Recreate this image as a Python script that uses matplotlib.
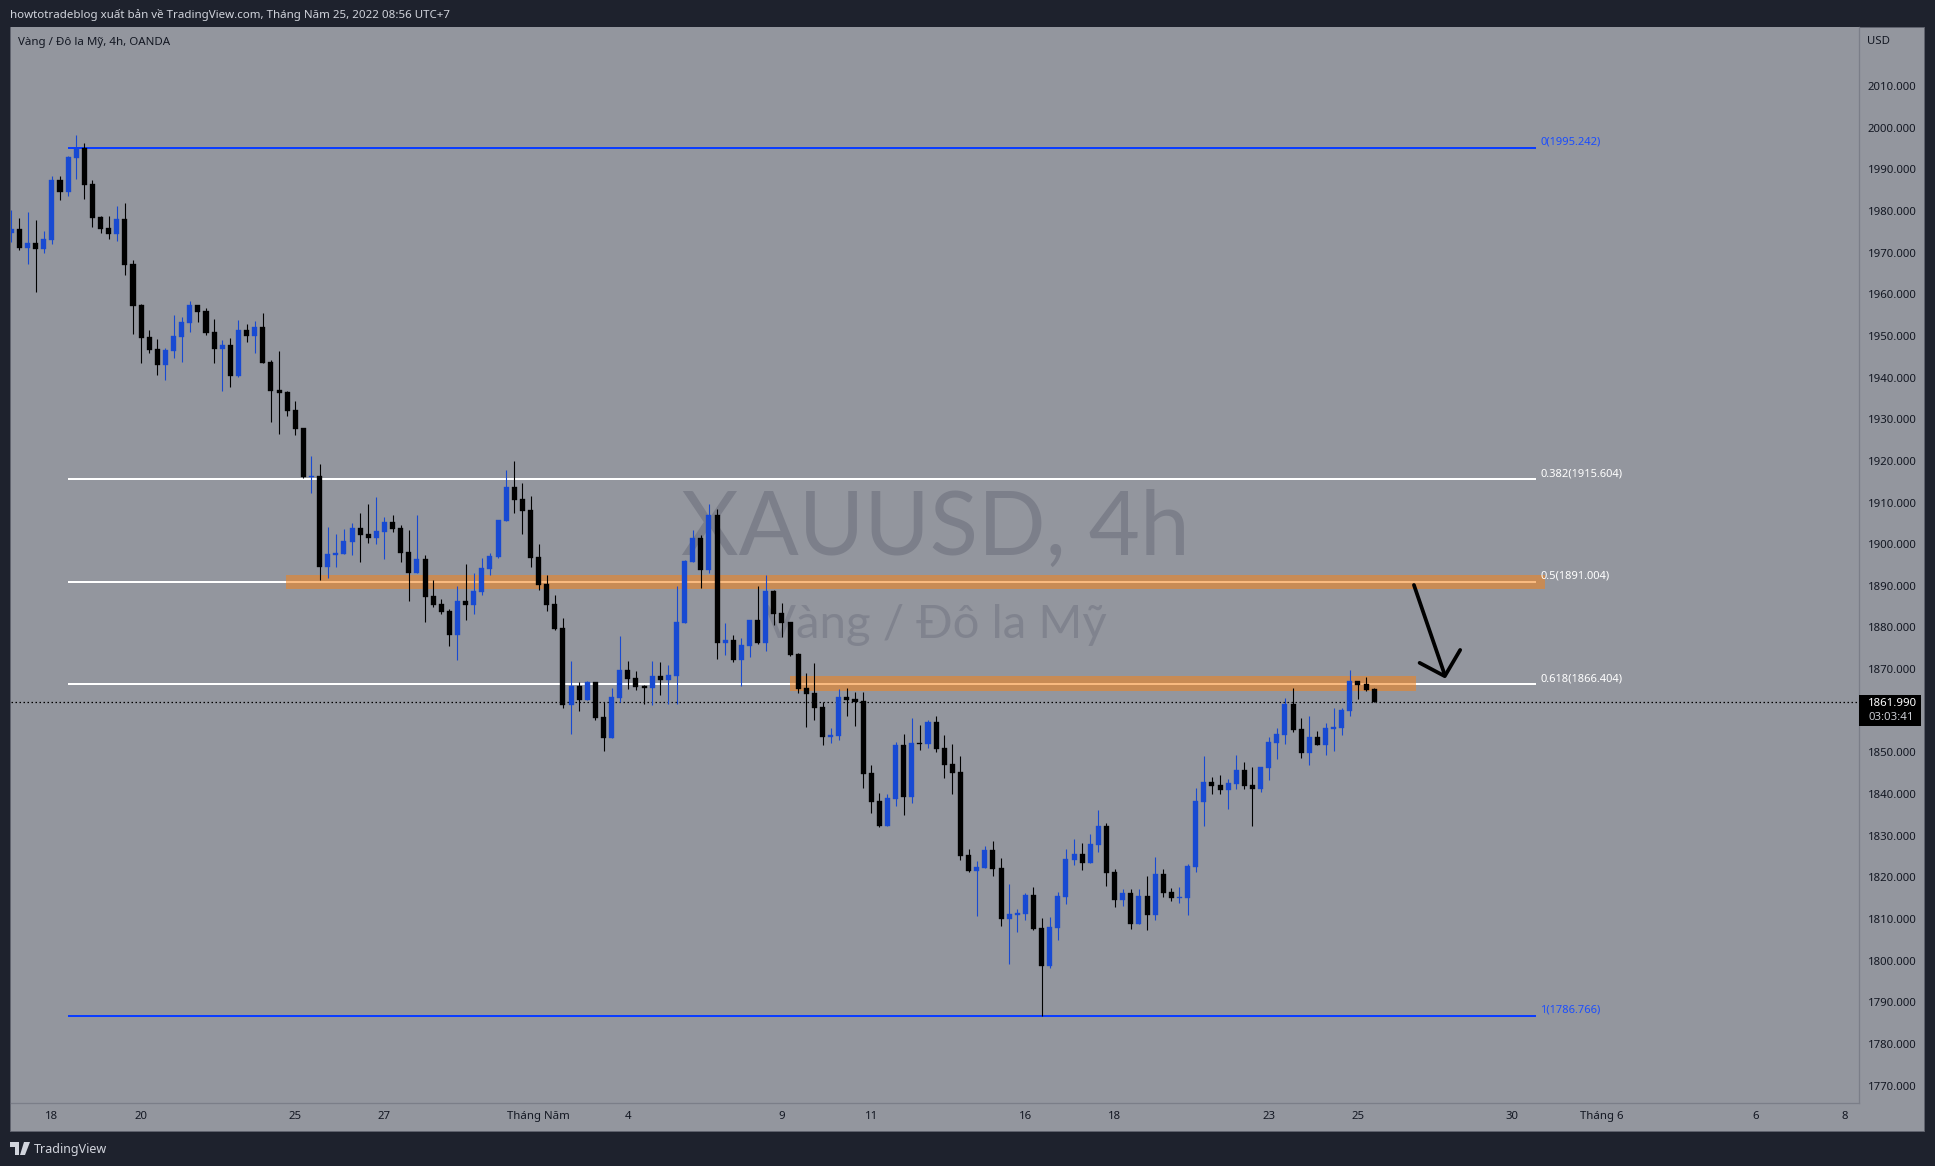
import matplotlib
matplotlib.use('Agg')
import matplotlib.pyplot as plt
from matplotlib.patches import Rectangle, Polygon

plt.rcParams['font.family'] = ['Noto Sans', 'DejaVu Sans']

W, H = 1935, 1166

open_ = [1974.8, 1975.7, 1971.2, 1972.4, 1970.9, 1973.1, 1987.5, 1984.6, 1992.8, 1995.2,
         1986.5, 1978.6, 1976.0, 1974.5, 1978.1, 1967.3, 1957.5, 1949.8, 1946.9, 1943.1,
         1946.4, 1949.8, 1953.1, 1957.5, 1956.0, 1951.0, 1946.9, 1947.9, 1940.4, 1951.5,
         1950.0, 1952.2, 1943.8, 1937.1, 1936.6, 1932.2, 1927.9, 1916.2, 1916.4, 1894.5,
         1897.4, 1897.7, 1900.5, 1903.9, 1902.5, 1901.5, 1902.9, 1905.4, 1903.9, 1898.1,
         1893.1, 1896.5, 1887.6, 1885.6, 1884.0, 1878.2, 1886.4, 1885.4, 1888.5, 1894.1,
         1896.9, 1905.6, 1913.8, 1910.9, 1908.2, 1896.9, 1890.5, 1885.6, 1879.9, 1861.4,
         1866.0, 1862.6, 1866.9, 1858.5, 1853.5, 1863.1, 1869.8, 1867.9, 1866.0, 1865.5,
         1868.4, 1867.4, 1868.4, 1881.1, 1895.7, 1901.5, 1893.8, 1907.0, 1876.3, 1877.0,
         1872.2, 1875.6, 1881.8, 1876.3, 1888.8, 1883.5, 1881.3, 1873.6, 1865.5, 1864.3,
         1860.9, 1853.7, 1854.0, 1863.3, 1862.8, 1862.4, 1845.1, 1838.3, 1832.3, 1838.8,
         1851.8, 1839.3, 1852.3, 1852.0, 1857.3, 1851.1, 1847.2, 1845.3, 1825.4, 1821.5,
         1822.2, 1826.6, 1822.2, 1810.0, 1811.0, 1811.2, 1815.8, 1807.8, 1798.7, 1807.8,
         1815.3, 1824.2, 1825.6, 1823.4, 1827.8, 1832.3, 1821.3, 1814.6, 1816.2, 1808.8,
         1815.5, 1811.0, 1820.8, 1816.5, 1815.0, 1815.0, 1822.5, 1838.1, 1842.9, 1842.2,
         1841.0, 1842.4, 1845.8, 1842.2, 1841.2, 1846.3, 1852.3, 1854.2, 1861.6, 1855.6,
         1849.9, 1853.7, 1851.8, 1855.6, 1855.9, 1860.0, 1867.2, 1866.4, 1865.2]
close = [1975.7, 1971.2, 1972.4, 1970.9, 1973.3, 1987.5, 1984.6, 1993.0, 1994.9, 1986.3,
         1978.4, 1975.7, 1974.5, 1978.1, 1967.1, 1957.2, 1949.5, 1946.7, 1943.1, 1946.7,
         1950.0, 1953.4, 1957.5, 1955.8, 1950.7, 1946.9, 1947.9, 1940.4, 1951.5, 1950.0,
         1952.2, 1943.5, 1936.8, 1936.3, 1932.0, 1927.7, 1916.2, 1916.4, 1894.5, 1897.7,
         1897.9, 1900.8, 1903.9, 1902.2, 1901.5, 1903.2, 1905.4, 1903.7, 1897.9, 1893.1,
         1896.5, 1887.3, 1885.4, 1883.7, 1878.2, 1886.4, 1885.4, 1888.8, 1894.3, 1897.2,
         1905.8, 1913.8, 1910.6, 1908.0, 1896.7, 1890.2, 1885.4, 1879.7, 1861.4, 1866.0,
         1862.6, 1866.9, 1858.3, 1853.5, 1863.3, 1869.8, 1867.6, 1865.7, 1865.5, 1868.4,
         1867.4, 1868.6, 1881.3, 1896.0, 1901.5, 1893.8, 1907.0, 1876.3, 1877.0, 1872.2,
         1875.8, 1881.8, 1876.3, 1888.8, 1883.3, 1881.1, 1873.4, 1865.2, 1864.0, 1860.7,
         1853.7, 1854.2, 1863.3, 1862.6, 1862.1, 1844.8, 1838.1, 1832.3, 1839.1, 1851.8,
         1839.3, 1852.3, 1852.0, 1857.3, 1850.8, 1847.0, 1845.1, 1825.1, 1821.5, 1822.5,
         1826.6, 1822.0, 1810.0, 1811.2, 1811.4, 1815.8, 1807.6, 1798.7, 1808.1, 1815.5,
         1824.4, 1825.6, 1823.4, 1828.0, 1832.3, 1821.0, 1814.6, 1816.2, 1808.8, 1815.5,
         1811.0, 1820.8, 1816.2, 1815.0, 1815.3, 1822.7, 1838.3, 1842.9, 1841.9, 1841.0,
         1842.7, 1845.8, 1841.9, 1841.2, 1846.5, 1852.5, 1854.4, 1861.6, 1855.4, 1849.9,
         1853.7, 1851.8, 1855.9, 1856.1, 1860.2, 1867.2, 1866.2, 1865.0, 1861.99]
high = [1980.3, 1978.4, 1979.8, 1977.9, 1975.2, 1988.4, 1988.4, 1993.2, 1998.3, 1996.4,
        1987.5, 1978.8, 1978.8, 1981.2, 1982.0, 1968.3, 1957.7, 1951.5, 1949.3, 1947.1,
        1955.1, 1954.6, 1958.4, 1957.5, 1956.7, 1954.1, 1949.1, 1949.5, 1953.9, 1952.9,
        1953.6, 1955.5, 1944.3, 1946.4, 1936.8, 1934.4, 1927.9, 1921.2, 1919.3, 1904.1,
        1902.5, 1903.7, 1905.1, 1907.5, 1909.7, 1911.4, 1906.6, 1907.0, 1904.6, 1903.4,
        1907.0, 1897.4, 1891.4, 1886.9, 1884.5, 1890.0, 1895.3, 1893.1, 1896.7, 1897.9,
        1905.8, 1917.8, 1920.0, 1914.7, 1911.6, 1900.1, 1892.6, 1887.8, 1882.3, 1872.0,
        1866.9, 1867.2, 1866.9, 1862.1, 1865.5, 1878.0, 1872.0, 1869.6, 1866.2, 1872.0,
        1871.7, 1871.0, 1890.0, 1896.2, 1903.4, 1902.2, 1909.7, 1908.5, 1881.1, 1878.2,
        1877.5, 1881.8, 1890.0, 1892.6, 1889.0, 1885.9, 1881.3, 1873.9, 1869.1, 1871.5,
        1862.1, 1855.9, 1865.2, 1865.5, 1864.5, 1864.5, 1847.0, 1840.3, 1840.0, 1852.5,
        1854.4, 1858.3, 1856.6, 1857.8, 1858.8, 1854.2, 1852.0, 1849.1, 1826.8, 1823.9,
        1827.5, 1828.7, 1824.6, 1818.4, 1812.4, 1816.2, 1817.7, 1810.2, 1810.5, 1816.5,
        1826.8, 1829.2, 1828.2, 1830.4, 1836.2, 1833.1, 1822.0, 1817.2, 1817.2, 1817.2,
        1820.3, 1824.9, 1822.0, 1817.4, 1817.7, 1823.2, 1841.5, 1849.1, 1844.1, 1844.6,
        1843.6, 1849.4, 1847.7, 1846.5, 1846.5, 1853.7, 1855.9, 1863.1, 1865.5, 1858.3,
        1858.8, 1855.1, 1857.1, 1860.7, 1860.7, 1869.8, 1867.2, 1868.1, 1865.5]
low = [1972.6, 1970.7, 1967.3, 1960.6, 1970.0, 1972.1, 1982.7, 1983.6, 1987.7, 1982.9,
       1976.2, 1974.8, 1973.3, 1972.8, 1964.7, 1950.5, 1943.5, 1945.9, 1940.7, 1939.5,
       1944.7, 1943.8, 1951.0, 1953.4, 1950.3, 1943.5, 1936.8, 1937.8, 1940.2, 1948.6,
       1945.9, 1943.5, 1929.4, 1926.5, 1930.8, 1926.2, 1915.9, 1912.3, 1891.4, 1891.9,
       1894.5, 1897.7, 1897.4, 1895.7, 1900.3, 1900.1, 1896.5, 1902.9, 1895.7, 1886.4,
       1893.1, 1881.3, 1884.9, 1883.3, 1875.6, 1872.2, 1881.8, 1883.3, 1887.8, 1892.6,
       1896.7, 1905.6, 1907.5, 1902.5, 1894.5, 1889.0, 1884.0, 1879.4, 1860.7, 1854.4,
       1860.0, 1862.6, 1857.8, 1850.3, 1853.5, 1862.1, 1865.2, 1865.0, 1861.6, 1861.4,
       1863.8, 1861.6, 1861.6, 1881.1, 1895.7, 1889.5, 1893.1, 1872.4, 1873.4, 1871.7,
       1866.0, 1872.9, 1876.0, 1874.4, 1880.6, 1877.7, 1873.2, 1864.3, 1856.1, 1857.8,
       1851.8, 1852.3, 1853.0, 1858.8, 1856.4, 1841.5, 1835.5, 1832.1, 1832.3, 1837.1,
       1835.0, 1837.9, 1850.6, 1851.1, 1850.1, 1843.9, 1840.0, 1824.2, 1821.3, 1810.7,
       1822.2, 1820.3, 1808.3, 1799.2, 1806.9, 1809.8, 1807.4, 1786.8, 1798.2, 1805.0,
       1813.6, 1823.0, 1821.8, 1823.4, 1826.1, 1817.9, 1812.9, 1813.1, 1807.6, 1808.8,
       1807.4, 1809.8, 1815.3, 1814.3, 1813.8, 1811.0, 1821.3, 1832.3, 1840.0, 1840.0,
       1836.4, 1841.2, 1841.2, 1832.3, 1840.5, 1843.4, 1848.4, 1852.0, 1854.9, 1848.7,
       1847.0, 1851.8, 1849.4, 1850.3, 1854.2, 1858.8, 1862.8, 1864.8, 1861.99]

fib_ratio = ['0', '0.382', '0.5', '0.618', '1']
fib_price = [1995.242, 1915.604, 1891.004, 1866.404, 1786.766]
fib_color = ['#0b3dff', '#ffffff', '#ffffff', '#ffffff', '#0b3dff']
fib_text_color = ['#1a4dff', '#ffffff', '#ffffff', '#ffffff', '#1a4dff']

# the 1860 label sits behind the last price badge in the reference
price_ticks = [p for p in range(1770, 2020, 10) if p != 1860]
date_pos = [5, 16, 35, 46, 65, 76, 95, 106, 125, 136, 155, 166, 185, 196, 215, 226]
date_labels = ['18', '20', '25', '27', 'Tháng Năm', '4', '9', '11', '16', '18', '23', '25', '30', 'Tháng 6', '6', '8']

zones = [(33.9, 189.0, 1889.25, 1892.6), (96.0, 173.1, 1864.75, 1868.36)]
arrow_x = [172.9, 176.7]
arrow_y = [1890.2, 1868.6]
head_x = [173.6, 176.7, 178.6]
head_y = [1871.5, 1868.3, 1874.6]

last_price = 1861.99

DARK = '#1e222d'
PANEL = '#93969e'
UP = '#184ad2'
DOWN = '#000000'
SEP = '#7b7e88'
WATER = '#7c7f8a'


def fx(x):
    return x / W


def fy(y):
    return 1 - y / H


fig = plt.figure(figsize=(W / 100, H / 100), dpi=100, facecolor=DARK)

fig.add_artist(Rectangle((fx(10), fy(1131)), (1924 - 10) / W, (1131 - 27) / H, transform=fig.transFigure,
                         facecolor=PANEL, edgecolor='#5f626d', linewidth=0.72, zorder=-1))

ax = fig.add_axes([fx(10.5), fy(1103), (1859.3 - 10.5) / W, (1103 - 27) / H])
ax.set_facecolor(PANEL)
ax.set_xlim(-0.1, 227.8)
ax.set_ylim(1765.8, 2024.2)

for side in ['top', 'left']:
    ax.spines[side].set_visible(False)
for side in ['right', 'bottom']:
    ax.spines[side].set_color(SEP)
    ax.spines[side].set_linewidth(0.9)

ax.yaxis.tick_right()
ax.set_yticks(price_ticks)
ax.set_yticklabels(['%.3f' % p for p in price_ticks])
ax.set_xticks(date_pos)
ax.set_xticklabels(date_labels)
ax.tick_params(axis='both', length=0, labelsize=8.2, labelcolor='#131722')
ax.tick_params(axis='y', pad=6.2)
ax.tick_params(axis='x', pad=6)
for lab in ax.get_xticklabels():
    if lab.get_text().startswith('Tháng'):
        lab.set_fontweight('bold')

# watermark
ax.text(0.5, 0.509, 'XAUUSD, 4h', transform=ax.transAxes, ha='center', va='baseline', fontsize=64,
        color=WATER, zorder=1, family=['Lato', 'DejaVu Sans'])
ax.text(0.5, 0.432, 'Vàng / Đô la Mỹ', transform=ax.transAxes, ha='center', va='baseline', fontsize=34,
        color='#80838e', zorder=1, family=['Lato', 'DejaVu Sans'])

# fib levels
for ratio, price, col, tcol in zip(fib_ratio, fib_price, fib_color, fib_text_color):
    ax.plot([7, 188], [price, price], color=col, lw=1.44, solid_capstyle='butt', zorder=2)
    ax.annotate('%s(%.3f)' % (ratio, price), xy=(188, price), xytext=(2.9, 0), textcoords='offset points',
                color=tcol, fontsize=8, va='bottom', ha='left', zorder=5)

for x0, x1, y0, y1 in zones:
    ax.add_patch(Rectangle((x0, y0), x1 - x0, y1 - y0, facecolor='#f58219', alpha=0.55, linewidth=0, zorder=3))

ax.axhline(last_price, color='black', lw=0.9, linestyle=(0, (1.2, 2)), zorder=3.5)

# candles
xs = list(range(len(close)))
colors = [UP if c > o else DOWN for o, c in zip(open_, close)]
ax.vlines(xs, low, high, colors=colors, lw=0.8, zorder=4)
bottoms = [min(o, c) for o, c in zip(open_, close)]
heights = [abs(c - o) for o, c in zip(open_, close)]
ax.bar(xs, heights, width=0.62, bottom=bottoms, color=colors, edgecolor=colors, linewidth=0.25, zorder=4.5)

# hand drawn arrow
ax.plot(arrow_x, arrow_y, color='black', lw=2.7, solid_capstyle='round', zorder=6)
ax.plot(head_x, head_y, color='black', lw=2.7, solid_capstyle='round', solid_joinstyle='round', zorder=6)

# header and footer
fig.text(fx(10), fy(15), 'howtotradeblog xuất bản về TradingView.com, Tháng Năm 25, 2022 08:56 UTC+7',
         color='#d1d4dc', fontsize=8.3, va='center', ha='left')
fig.text(fx(18), fy(42), 'Vàng / Đô la Mỹ, 4h, OANDA', color='#131722', fontsize=8.3, va='center', ha='left')
fig.text(fx(1867), fy(41), 'USD', color='#131722', fontsize=8.2, va='center', ha='left')

# last price badge
fig.add_artist(Rectangle((fx(1859), fy(726)), 62 / W, 31 / H, transform=fig.transFigure, facecolor='black',
                         edgecolor='none', zorder=5))
fig.text(fx(1868), fy(703), '%.3f' % last_price, color='white', fontsize=8.2, va='center', ha='left', zorder=6)
fig.text(fx(1868), fy(718), '03:03:41', color='#c8cad0', fontsize=8.2, va='center', ha='left', zorder=6)

# TradingView mark
logo_t = Polygon([(fx(10), fy(1142)), (fx(19), fy(1142)), (fx(19), fy(1155)), (fx(15), fy(1155)),
                  (fx(15), fy(1147)), (fx(10), fy(1147))], transform=fig.transFigure, facecolor='#d1d4dc',
                 edgecolor='none')
logo_v = Polygon([(fx(24), fy(1142)), (fx(30), fy(1142)), (fx(25), fy(1155)), (fx(20), fy(1155))],
                 transform=fig.transFigure, facecolor='#d1d4dc', edgecolor='none')
fig.add_artist(logo_t)
fig.add_artist(logo_v)
fig.text(fx(33.5), fy(1149), 'TradingView', color='#d1d4dc', fontsize=9, va='center', ha='left')

fig.savefig('out.png', dpi=100, facecolor=fig.get_facecolor())
